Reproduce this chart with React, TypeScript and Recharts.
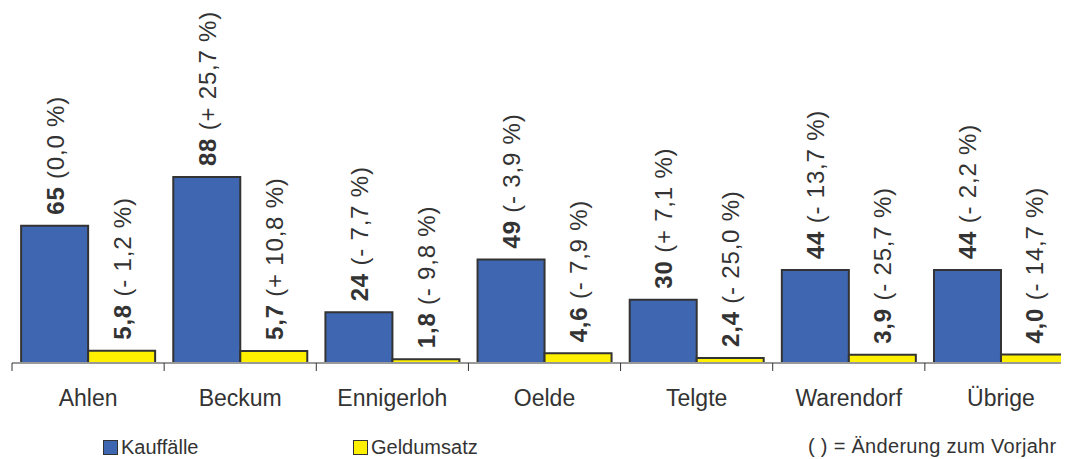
import { BarChart, Bar, XAxis, YAxis, LabelList } from 'recharts'

const regions = ['Ahlen', 'Beckum', 'Ennigerloh', 'Oelde', 'Telgte', 'Warendorf', 'Übrige']
const kauffaelle = [65, 88, 24, 49, 30, 44, 44]
const kauffaelleChange = [0.0, 25.7, -7.7, -3.9, 7.1, -13.7, -2.2]
const geldumsatz = [5.8, 5.7, 1.8, 4.6, 2.4, 3.9, 4.0]
const geldumsatzChange = [-1.2, 10.8, -9.8, -7.9, -25.0, -25.7, -14.7]

const data = regions.map((name, i) => ({
  name,
  kauf: kauffaelle[i],
  kaufChg: kauffaelleChange[i],
  geld: geldumsatz[i],
  geldChg: geldumsatzChange[i],
}))

const FONT = '"Liberation Sans", Arial, sans-serif'
const BLUE = '#3F67B1'
const YELLOW = '#FFF000'
const TICK_SIZE = 8
const TICK_MARGIN = 18

const fmt = (v: number, digits: number) => v.toFixed(digits).replace('.', ',')
const fmtChange = (v: number) => {
  const s = fmt(Math.abs(v), 1)
  if (v > 0) return `(+ ${s} %)`
  if (v < 0) return `(- ${s} %)`
  return `(${s} %)`
}

function makeLabel(changes: number[], digits: number) {
  return (props: any) => {
    const { x, y, width, value, index } = props
    const cx = Number(x) + Number(width) / 2
    const y0 = Number(y) - 11
    return (
      <text
        x={cx}
        y={y0}
        transform={`rotate(-90, ${cx}, ${y0})`}
        textAnchor="start"
        dominantBaseline="central"
        fontFamily={FONT}
        fontSize={24}
        letterSpacing={0.8}
        fill="#333"
      >
        <tspan fontWeight="bold">{fmt(Number(value), digits)}</tspan>
        <tspan>{'  ' + fmtChange(changes[index])}</tspan>
      </text>
    )
  }
}

// category label + tick mark on the left boundary of the band (Excel style)
function CategoryTick(props: any) {
  const { x, y, payload } = props
  const half = payload.offset ?? 0
  const axisY = y - TICK_SIZE - TICK_MARGIN
  return (
    <g>
      <line x1={x - half} x2={x - half} y1={axisY} y2={axisY + TICK_SIZE} stroke="#333" strokeWidth={1} />
      <text x={x} y={y} dy={16.5} textAnchor="middle" fontSize={23} fill="#333" fontFamily={FONT}>
        {payload.value}
      </text>
    </g>
  )
}

function LegendBox({ color, left, label }: { color: string; left: number; label: string }) {
  return (
    <div style={{ position: 'absolute', left, top: 428, display: 'flex', alignItems: 'center' }}>
      <span style={{ width: 13, height: 13, background: color, border: '1.5px solid #333', marginRight: 3 }} />
      <span>{label}</span>
    </div>
  )
}

export default function App() {
  return (
    <div style={{ position: 'relative', width: 1061, height: 451, overflow: 'hidden', fontFamily: FONT }}>
      <BarChart
        width={1069}
        height={451}
        data={data}
        margin={{ top: 17, right: 0, left: 4, bottom: 36 }}
        barCategoryGap="6%"
        barGap={0}
      >
        <XAxis
          dataKey="name"
          height={60}
          axisLine={{ stroke: '#999', strokeWidth: 2 }}
          tickLine={false}
          tickSize={TICK_SIZE}
          tickMargin={TICK_MARGIN}
          tick={<CategoryTick />}
          interval={0}
        />
        <YAxis hide domain={[0, 160]} />
        <Bar dataKey="kauf" name="Kauffälle" fill={BLUE} stroke="#333" strokeWidth={2} isAnimationActive={false}>
          <LabelList dataKey="kauf" content={makeLabel(kauffaelleChange, 0)} />
        </Bar>
        <Bar dataKey="geld" name="Geldumsatz" fill={YELLOW} stroke="#333" strokeWidth={2} isAnimationActive={false}>
          <LabelList dataKey="geld" content={makeLabel(geldumsatzChange, 1)} />
        </Bar>
      </BarChart>
      <div style={{ position: 'absolute', left: 0, top: 0, width: '100%', height: '100%', fontSize: 20, color: '#333' }}>
        <LegendBox color={BLUE} left={95} label="Kauffälle" />
        <LegendBox color={YELLOW} left={345} label="Geldumsatz" />
        <div style={{ position: 'absolute', left: 800, top: 427, letterSpacing: 0.3, whiteSpace: 'nowrap' }}>( ) = Änderung zum Vorjahr</div>
      </div>
    </div>
  )
}
